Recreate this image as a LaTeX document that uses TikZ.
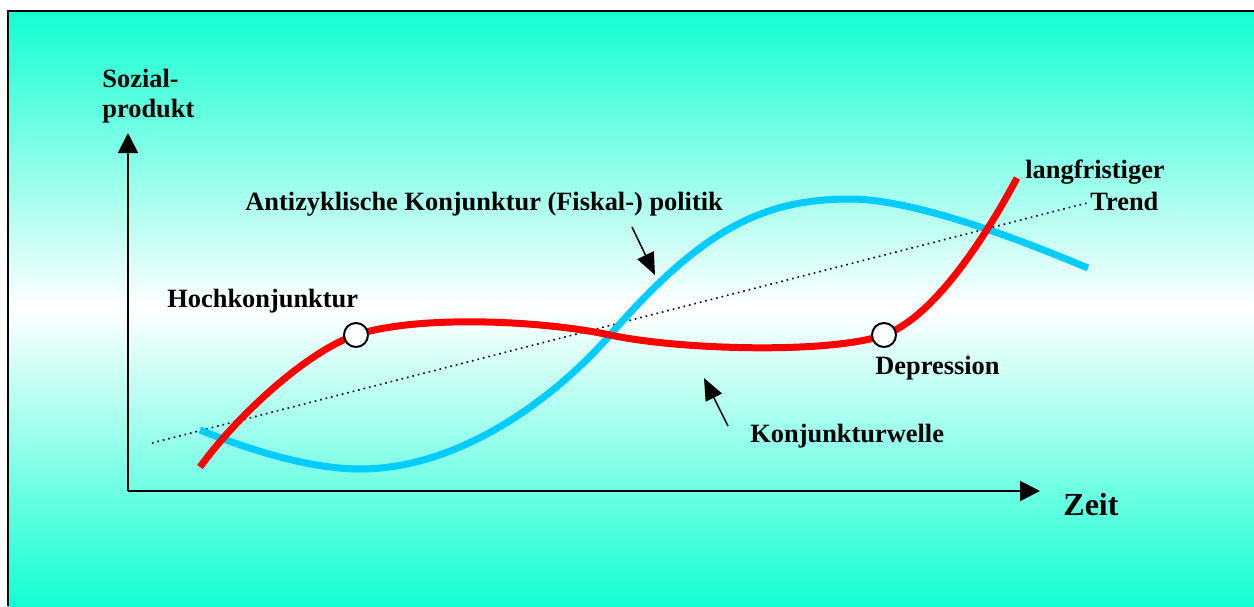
\documentclass[tikz,border=0pt]{standalone}
\usepackage{fontspec}
\setmainfont{Liberation Serif}
\usetikzlibrary{arrows.meta}
\definecolor{bgteal}{RGB}{18,255,210}
\definecolor{wavered}{RGB}{255,0,0}
\definecolor{wavecyan}{RGB}{0,204,255}
\tikzset{
  lbl/.style={font=\fontsize{13.2}{15}\selectfont\bfseries, inner sep=0pt, anchor=base west},
  axis/.style={line width=1pt, -{Triangle[length=10pt,width=10pt]}},
  pointer/.style={line width=0.75pt, -{Triangle[length=11pt,width=9pt]}},
  wave/.style={line width=3.5pt},
  marker/.style={circle, draw=black, line width=1pt, fill=white, minimum size=12pt, inner sep=0pt}
}
\begin{document}
\begin{tikzpicture}[x=0.5pt,y=-0.5pt]
\useasboundingbox (0,0) rectangle (1254,606);
\fill[white] (0,0) rectangle (1254,606);
\shade[top color=bgteal, bottom color=bgteal, middle color=white] (8,11) rectangle (1254,606);
\draw[line width=1pt] (8,606) -- (8,11) -- (1254,11);

% axes
\coordinate (origin) at (128,491);
\coordinate (ytop) at (128,133);
\coordinate (xend) at (1040,491);
\draw[axis] (origin) -- (ytop);
\draw[axis] (origin) -- (xend);

% trend
\coordinate (t1) at (152,443);
\coordinate (t2) at (1087,203);
\draw[dotted, line width=0.8pt] (t1) -- (t2);

% cyan curve (antizyklische Politik)
\draw[wave, wavecyan] (200,430) .. controls (250,450) and (310,469) .. (360,469)
  .. controls (460,469) and (555,398) .. (610,335)
  .. controls (700,232) and (760,199) .. (850,199)
  .. controls (920,199) and (1040,248) .. (1088,268);

% red curve (Konjunkturwelle)
\draw[wave, wavered] (200,467) .. controls (240,412) and (310,350) .. (356,335)
  .. controls (416,315) and (540,320) .. (610,335)
  .. controls (680,350) and (830,354) .. (884,335)
  .. controls (933,318) and (985,238) .. (1017,178);

% markers
\node[marker] (hoch) at (356,335) {};
\node[marker] (dep) at (884,335) {};

% labels
\node[lbl] (sozial) at (102,87) {Sozial-};
\node[lbl] (produkt) at (102,117) {produkt};
\node[lbl] (antiz) at (245,210) {Antizyklische Konjunktur (Fiskal-) politik};
\node[lbl] (hochl) at (167,307) {Hochkonjunktur};
\node[lbl] (depl) at (875,374) {Depression};
\node[lbl] (welle) at (750,442) {Konjunkturwelle};
\node[lbl] (lang) at (1025,178) {langfristiger};
\node[lbl] (trend) at (1090,210) {Trend};
\node[font=\fontsize{16}{18}\selectfont\bfseries, inner sep=0pt, anchor=base west] (zeit) at (1063,515) {Zeit};

% pointers
\coordinate (p1s) at (632,227);
\coordinate (p1e) at (655,275);
\draw[pointer] (p1s) -- (p1e);
\coordinate (p2s) at (728,426);
\coordinate (p2e) at (704,378);
\draw[pointer] (p2s) -- (p2e);
\end{tikzpicture}
\end{document}
